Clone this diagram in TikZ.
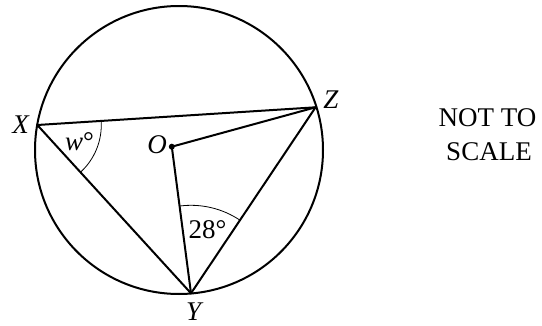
\documentclass[tikz,border=0pt]{standalone}
\usepackage{fontspec}
\setmainfont{Liberation Serif}
\usetikzlibrary{angles}
\begin{document}
\begin{tikzpicture}[x=1pt,y=1pt,
  geo/.style={line width=2pt, line join=round, line cap=round},
  thinarc/.style={draw, line width=0.8pt},
  lbl/.style={font=\fontsize{27}{32}\selectfont\itshape, inner sep=0pt},
  txt/.style={font=\fontsize{27}{32}\selectfont, inner sep=0pt}]
\useasboundingbox (0,0) rectangle (542,325);
\coordinate (C) at (179,175);
\coordinate (X) at (37.3,200);
\coordinate (Z) at (315.6,217.7);
\coordinate (Y) at (191,31.7);
\coordinate (O) at (171.8,178.3);
\draw[geo] (C) circle (144pt);
\draw[geo] (X) -- (Z);
\draw[geo] (X) -- (Y);
\draw[geo] (Z) -- (Y);
\draw[geo] (O) -- (Z);
\draw[geo] (O) -- (Y);
\fill (O) circle (3pt);
\pic[thinarc, angle radius=64pt] {angle=Y--X--Z};
\pic[thinarc, angle radius=88pt] {angle=Z--Y--O};
\node[lbl] (lx) at (20.7,200) {X};
\node[lbl] (lz) at (331,225) {Z};
\node[lbl] (ly) at (193.6,13.3) {Y};
\node[lbl] (lo) at (157,180) {O};
\node[lbl] (lw) at (79.5,183.3) {w\textup{°}};
\node[txt] (l28) at (207.4,95) {28°};
\node[txt] (n1) at (487.4,207.7) {NOT TO};
\node[txt] (n2) at (489,173.3) {SCALE};
\end{tikzpicture}
\end{document}
